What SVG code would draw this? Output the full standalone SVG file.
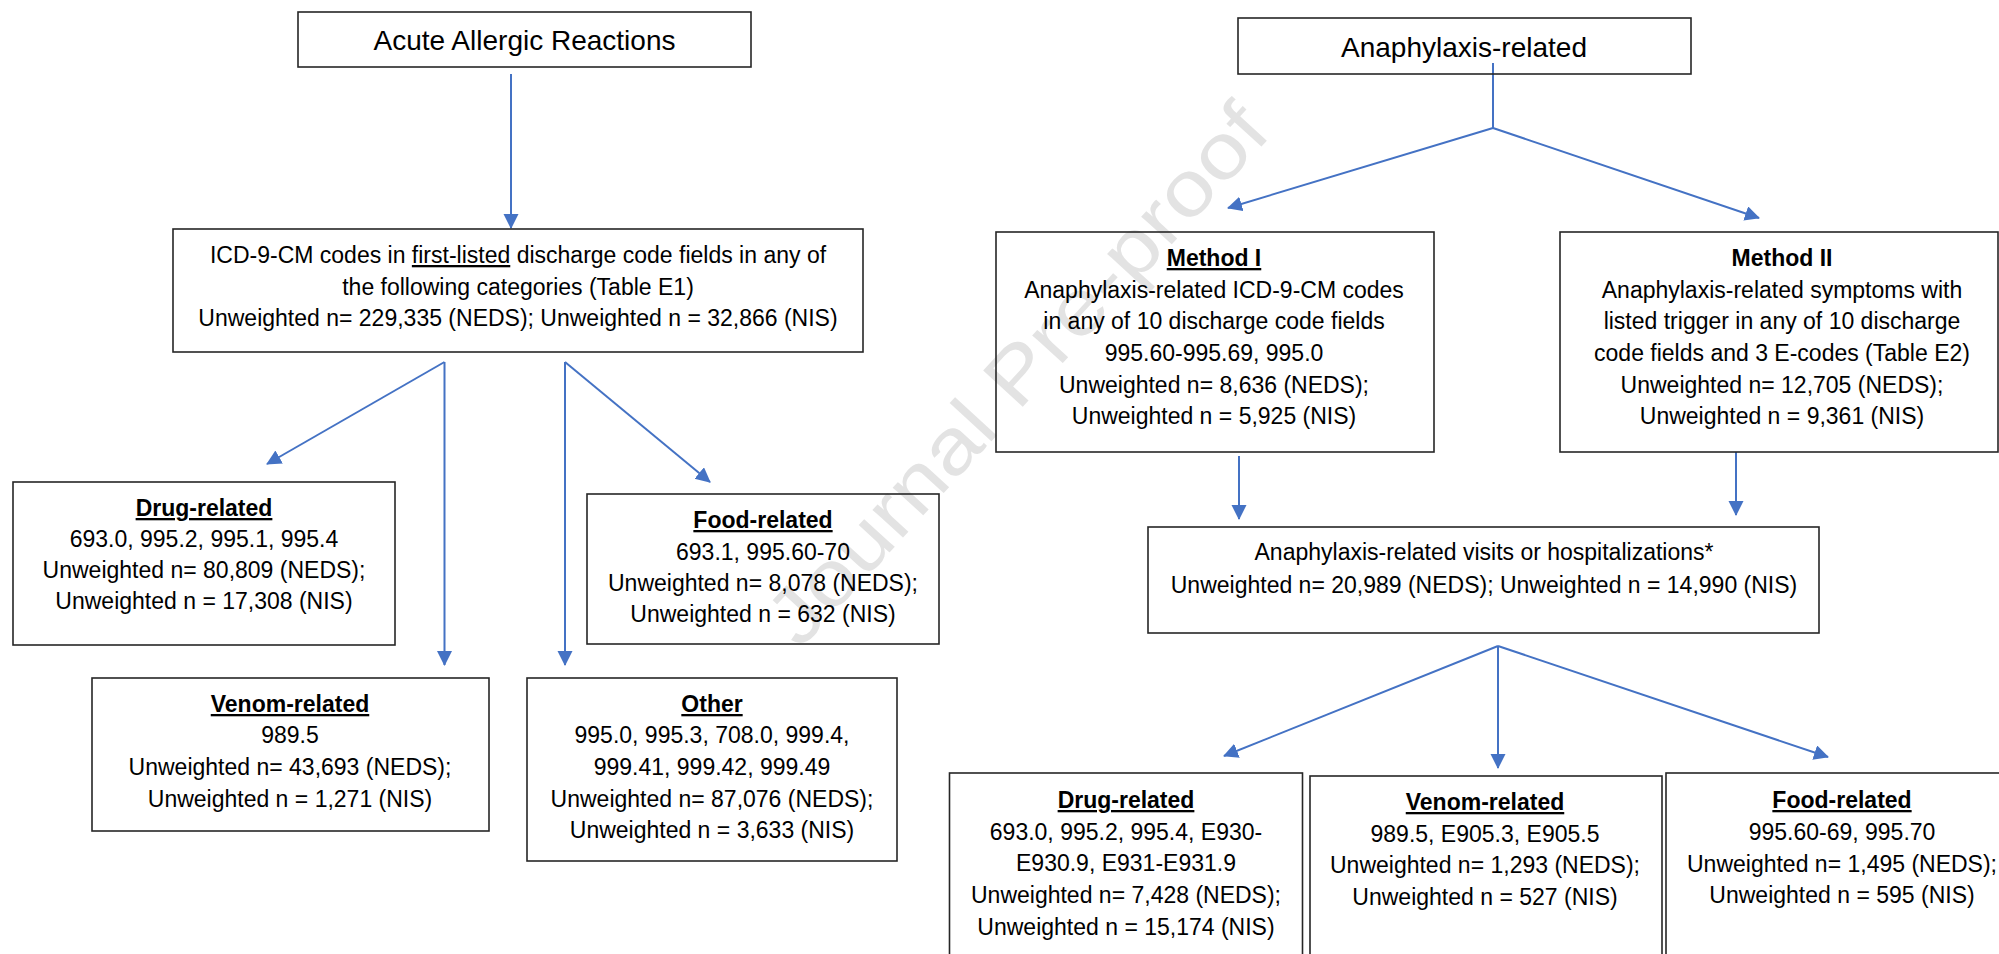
<svg xmlns="http://www.w3.org/2000/svg" width="1999" height="954" viewBox="0 0 1999 954">
<style>
.bg{fill:#ffffff}
.box{fill:none;stroke:#262626;stroke-width:1.6}
.t{font-family:"Liberation Sans",Arial,sans-serif;font-size:23px;fill:#000;text-anchor:middle}
.title{font-family:"Liberation Sans",Arial,sans-serif;font-size:28px;fill:#000;text-anchor:middle}
.h{font-weight:bold}
.u{text-decoration:underline}
.wm{font-family:"Liberation Sans",Arial,sans-serif;font-size:78px;fill:#e3e3e3}
.c{fill:none;stroke:#4472C4;stroke-width:2;marker-end:url(#ah)}
.cl{fill:none;stroke:#4472C4;stroke-width:2}
</style>
<defs>
<marker id="ah" markerUnits="userSpaceOnUse" markerWidth="16" markerHeight="16" refX="14" refY="7.5" orient="auto">
<path d="M0,0 L15,7.5 L0,15 z" fill="#4472C4"/>
</marker>
</defs>
<rect class="bg" x="0" y="0" width="1999" height="954"/>
<text class="wm" x="800" y="650" transform="rotate(-47.5 800 650)" textLength="700" lengthAdjust="spacingAndGlyphs">Journal Pre-proof</text>

<g id="connectors">
<line class="c" x1="511" y1="74" x2="511" y2="228"/>
<line class="c" x1="444.5" y1="362" x2="267" y2="464"/>
<line class="c" x1="444.5" y1="362" x2="444.5" y2="665"/>
<line class="c" x1="565" y1="362" x2="565" y2="665"/>
<line class="c" x1="565" y1="362" x2="710" y2="482"/>
<line class="cl" x1="1493" y1="63" x2="1493" y2="128"/>
<line class="c" x1="1493" y1="128" x2="1228" y2="208"/>
<line class="c" x1="1493" y1="128" x2="1759" y2="218"/>
<line class="c" x1="1239" y1="456" x2="1239" y2="519"/>
<line class="c" x1="1736" y1="452" x2="1736" y2="515"/>
<line class="c" x1="1498" y1="646" x2="1224" y2="756"/>
<line class="c" x1="1498" y1="646" x2="1498" y2="768"/>
<line class="c" x1="1498" y1="646" x2="1828" y2="757"/>
</g>

<g id="acute">
<rect class="box" x="298" y="12" width="453" height="55"/>
<text class="title" x="524.5" y="50">Acute Allergic Reactions</text>
</g>

<g id="icd">
<rect class="box" x="173" y="229" width="690" height="123"/>
<text class="t" x="518" y="263">ICD-9-CM codes in <tspan class="u">first-listed</tspan> discharge code fields in any of</text>
<text class="t" x="518" y="295">the following categories (Table E1)</text>
<text class="t" x="518" y="326">Unweighted n= 229,335 (NEDS); Unweighted n = 32,866 (NIS)</text>
</g>

<g id="drug1">
<rect class="box" x="13" y="482" width="382" height="163"/>
<text class="t h u" x="204" y="516">Drug-related</text>
<text class="t" x="204" y="547">693.0, 995.2, 995.1, 995.4</text>
<text class="t" x="204" y="578">Unweighted n= 80,809 (NEDS);</text>
<text class="t" x="204" y="609">Unweighted n = 17,308 (NIS)</text>
</g>

<g id="food1">
<rect class="box" x="587" y="494" width="352" height="150"/>
<text class="t h u" x="763" y="528">Food-related</text>
<text class="t" x="763" y="560">693.1, 995.60-70</text>
<text class="t" x="763" y="591">Unweighted n= 8,078 (NEDS);</text>
<text class="t" x="763" y="622">Unweighted n = 632 (NIS)</text>
</g>

<g id="venom1">
<rect class="box" x="92" y="678" width="397" height="153"/>
<text class="t h u" x="290" y="712">Venom-related</text>
<text class="t" x="290" y="743">989.5</text>
<text class="t" x="290" y="775">Unweighted n= 43,693 (NEDS);</text>
<text class="t" x="290" y="807">Unweighted n = 1,271 (NIS)</text>
</g>

<g id="other">
<rect class="box" x="527" y="678" width="370" height="183"/>
<text class="t h u" x="712" y="712">Other</text>
<text class="t" x="712" y="743">995.0, 995.3, 708.0, 999.4,</text>
<text class="t" x="712" y="775">999.41, 999.42, 999.49</text>
<text class="t" x="712" y="807">Unweighted n= 87,076 (NEDS);</text>
<text class="t" x="712" y="838">Unweighted n = 3,633 (NIS)</text>
</g>

<g id="anaphylaxis">
<rect class="box" x="1238" y="18" width="453" height="56"/>
<text class="title" x="1464" y="57">Anaphylaxis-related</text>
</g>

<g id="method1">
<rect class="box" x="996" y="232" width="438" height="220"/>
<text class="t h u" x="1214" y="266">Method I</text>
<text class="t" x="1214" y="298">Anaphylaxis-related ICD-9-CM codes</text>
<text class="t" x="1214" y="329">in any of 10 discharge code fields</text>
<text class="t" x="1214" y="361">995.60-995.69, 995.0</text>
<text class="t" x="1214" y="393">Unweighted n= 8,636 (NEDS);</text>
<text class="t" x="1214" y="424">Unweighted n = 5,925 (NIS)</text>
</g>

<g id="method2">
<rect class="box" x="1560" y="232" width="438" height="220"/>
<text class="t h" x="1782" y="266">Method II</text>
<text class="t" x="1782" y="298">Anaphylaxis-related symptoms with</text>
<text class="t" x="1782" y="329">listed trigger in any of 10 discharge</text>
<text class="t" x="1782" y="361">code fields and 3 E-codes (Table E2)</text>
<text class="t" x="1782" y="393">Unweighted n= 12,705 (NEDS);</text>
<text class="t" x="1782" y="424">Unweighted n = 9,361 (NIS)</text>
</g>

<g id="visits">
<rect class="box" x="1148" y="527" width="671" height="106"/>
<text class="t" x="1484" y="560">Anaphylaxis-related visits or hospitalizations*</text>
<text class="t" x="1484" y="593">Unweighted n= 20,989 (NEDS); Unweighted n = 14,990 (NIS)</text>
</g>

<g id="drug2">
<rect class="box" x="949.5" y="773" width="353" height="200"/>
<text class="t h u" x="1126" y="808">Drug-related</text>
<text class="t" x="1126" y="840">693.0, 995.2, 995.4, E930-</text>
<text class="t" x="1126" y="871">E930.9, E931-E931.9</text>
<text class="t" x="1126" y="903">Unweighted n= 7,428 (NEDS);</text>
<text class="t" x="1126" y="935">Unweighted n = 15,174 (NIS)</text>
</g>

<g id="venom2">
<rect class="box" x="1310" y="776" width="352" height="200"/>
<text class="t h u" x="1485" y="810">Venom-related</text>
<text class="t" x="1485" y="842">989.5, E905.3, E905.5</text>
<text class="t" x="1485" y="873">Unweighted n= 1,293 (NEDS);</text>
<text class="t" x="1485" y="905">Unweighted n = 527 (NIS)</text>
</g>

<g id="food2">
<rect class="box" x="1666" y="773" width="345" height="200"/>
<text class="t h u" x="1842" y="808">Food-related</text>
<text class="t" x="1842" y="840">995.60-69, 995.70</text>
<text class="t" x="1842" y="872">Unweighted n= 1,495 (NEDS);</text>
<text class="t" x="1842" y="903">Unweighted n = 595 (NIS)</text>
</g>
</svg>
